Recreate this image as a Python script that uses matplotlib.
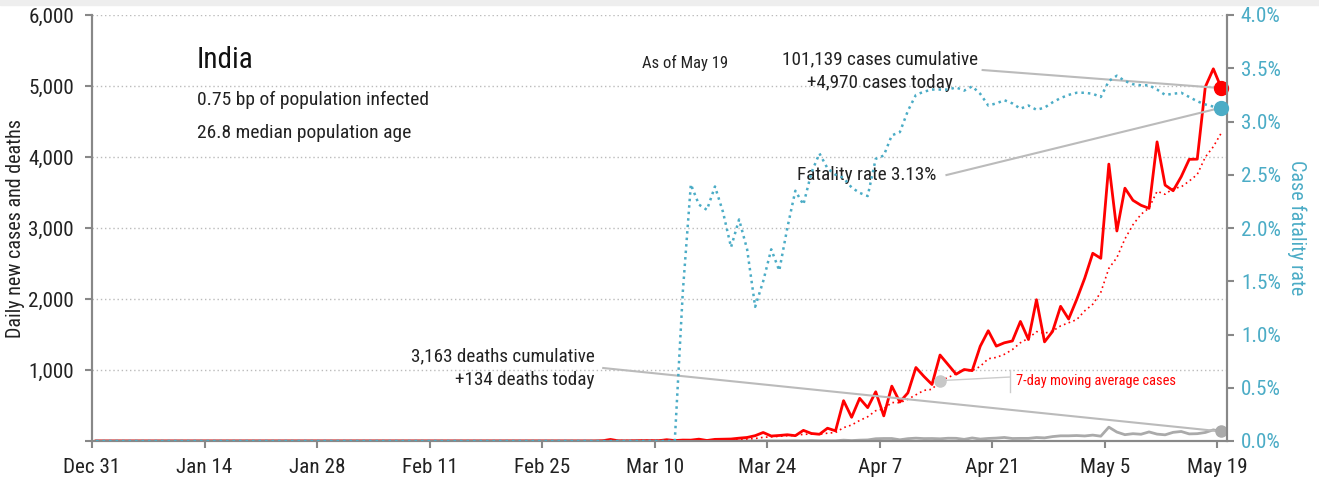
import numpy as np
import pandas as pd
import matplotlib
matplotlib.use("Agg")
import matplotlib.pyplot as plt
from matplotlib import font_manager

names = {f.name for f in font_manager.fontManager.ttflist}
FAM = [n for n in ["Liberation Sans Narrow", "Roboto Condensed", "Liberation Sans"] if n in names][:1] + ["DejaVu Sans"]
plt.rcParams['font.family'] = FAM

tick_labels = ["Dec 31", "Jan 14", "Jan 28", "Feb 11", "Feb 25", "Mar 10",
               "Mar 24", "Apr 7", "Apr 21", "May 5", "May 19"]

# Daily new cases, Dec 31 2019 .. May 19 2020
cases = ([0] * 30 + [1, 0, 0, 1, 1] + [0] * 28 +
         [3, 22, 2, 1, 3, 5, 4, 4, 18, 6, 13, 12, 26, 7, 23, 25, 28, 40, 50, 75,
          120, 70, 78, 88, 75, 150, 106, 95, 180] +
         [143, 568, 334, 601, 470, 693, 354, 773, 549, 678, 1035, 909, 796, 1211,
          1076, 941, 1007, 991, 1334, 1553, 1336, 1383, 1409, 1684, 1429, 1990,
          1396, 1543, 1897, 1718] +
         [1993, 2293, 2644, 2573, 3900, 2958, 3561, 3390, 3320, 3277, 4213, 3604,
          3525, 3722, 3967, 3970, 4987, 5242, 4970])

deaths = ([0] * 73 +
          [1, 1, 0, 0, 1, 0, 1, 1, 0, 1, 2, 1, 1, 3, 4, 2, 6, 3, 3] +
          [3, 12, 6, 12, 15, 32, 35, 35, 17, 33, 40, 34, 35, 31, 39, 38, 23, 43,
           27, 36, 41, 50, 35, 37, 37, 49, 44, 62, 73, 73] +
          [77, 71, 83, 68, 195, 126, 89, 103, 95, 128, 97, 87, 122, 134, 100, 103,
           120, 157, 134])

# Case fatality rate (%)
cfr = ([0.0] * 73 +
       [1.40, 2.41, 2.22, 2.17, 2.39, 2.15, 1.82, 2.08, 1.80, 1.26, 1.50, 1.80,
        1.60, 2.00, 2.35, 2.22, 2.52, 2.70, 2.56] +
       [2.50, 2.47, 2.38, 2.33, 2.30, 2.65, 2.68, 2.87, 2.90, 3.10, 3.25, 3.28,
        3.30, 3.30, 3.30, 3.32, 3.29, 3.33, 3.26, 3.15, 3.17, 3.20, 3.17, 3.12,
        3.15, 3.11, 3.13, 3.18, 3.22, 3.25] +
       [3.27, 3.27, 3.26, 3.23, 3.38, 3.43, 3.38, 3.35, 3.34, 3.34, 3.30, 3.25,
        3.26, 3.27, 3.23, 3.19, 3.16, 3.14, 3.13])

RED = "#ff0000"
BLUE = "#4bacc6"
GRAY = "#aaaaaa"
AXC = "#888888"
TXT = "#222222"

x = np.arange(len(cases)) + 0.5
ma = pd.Series(cases).rolling(7, min_periods=1).mean().values

fig = plt.figure(figsize=(13.19, 4.82), dpi=100)
fig.patch.set_facecolor("white")
fig.add_artist(plt.Rectangle((0, 0.99), 1, 0.01, transform=fig.transFigure,
                             color="#eeeeee", zorder=0))
ax = fig.add_axes([92 / 1319, 1 - 441 / 482, (1227 - 92) / 1319, (441 - 15) / 482])
ax2 = ax.twinx()

ax.set_xlim(0, 141.2)
ax.set_ylim(0, 6000)
ax2.set_ylim(0, 4.0)

for v in range(1000, 6001, 1000):
    ax.axhline(v, color="#bbbbbb", lw=1, ls=(0, (1, 2)), zorder=0)

ax.plot(x, deaths, color=GRAY, lw=2, zorder=2)
ax.plot(x, ma, color=RED, lw=1.2, ls=(0, (1, 2)), zorder=3)
ax.plot(x, cases, color=RED, lw=2, zorder=4)
ax2.plot(x, cfr, color=BLUE, lw=1.8, ls=(0, (1, 1.6)), zorder=3)

# end markers
ax.plot(x[-1], cases[-1], "o", color=RED, ms=10, zorder=6, clip_on=False)
ax.plot(x[-1], deaths[-1], "o", color=GRAY, ms=8, zorder=6, clip_on=False)
ax2.plot(x[-1], cfr[-1], "o", color=BLUE, ms=10, zorder=6, clip_on=False)
i_ma = 105
ax.plot(x[i_ma], ma[i_ma], "o", color="#c8c8c8", ms=8, zorder=6)

# axes styling
for a in (ax, ax2):
    for s in a.spines.values():
        s.set_color(AXC)
        s.set_linewidth(1.5)
    a.spines["top"].set_visible(False)
ax.set_xticks(np.arange(0, 141, 14))
ax.set_xticklabels(tick_labels)
ax.set_yticks(range(0, 6001, 1000))
ax.set_yticklabels([""] + [f"{v:,}" for v in range(1000, 6001, 1000)])
ax.tick_params(axis="both", colors=AXC, labelcolor=TXT, labelsize=15.2,
               length=5, width=1.5)
ax.tick_params(axis="x", pad=7)
ax.tick_params(axis="y", pad=8)
ax2.set_yticks(np.arange(0, 4.01, 0.5))
ax2.set_yticklabels([f"{v:.1f}%" for v in np.arange(0, 4.01, 0.5)])
ax2.tick_params(axis="y", colors=AXC, labelcolor=BLUE, labelsize=15.2,
                length=5, width=1.5, pad=5)
ax.set_ylabel("Daily new cases and deaths", fontsize=14.5, color=TXT, labelpad=2)
ax2.set_ylabel("Case fatality rate", fontsize=14.5, color=BLUE, rotation=-90,
               labelpad=18)

# texts
ax.text(13.06, 5366, "India", fontsize=21, va="center", ha="left", color="#111111")
ax.text(13.06, 4803, "0.75 bp of population infected", fontsize=14, va="center",
        color=TXT)
ax.text(13.06, 4338, "26.8 median population age", fontsize=14, va="center",
        color=TXT)
ax.text(73.76, 5324, "As of May 19", fontsize=12, va="center", ha="center",
        color=TXT)

ax.text(98.0, 5211, "101,139 cases cumulative\n+4,970 cases today", fontsize=13.8,
        ha="center", va="center", multialignment="center", color=TXT,
        linespacing=1.45, zorder=7)
ax.plot([110.8, x[-1]], [5225, cases[-1]], color="#bbbbbb", lw=1.5, zorder=5)

ax.text(105.1, 3746, "Fatality rate 3.13%", fontsize=13.8, ha="right", va="center",
        color=TXT, zorder=7)
ax.plot([106.3, x[-1]], [3746, cfr[-1] / 4.0 * 6000], color="#bbbbbb", lw=1.5,
        zorder=5)

ax.text(62.56, 1028, "3,163 deaths cumulative\n+134 deaths today", fontsize=13.8,
        ha="right", va="center", multialignment="right", color=TXT,
        linespacing=1.45, zorder=7)
ax.plot([63.6, x[-1]], [1028, deaths[-1]], color="#bbbbbb", lw=1.5, zorder=5)

ax.plot([x[i_ma], 114.2], [ma[i_ma], 901], color="#cccccc", lw=1, zorder=5)
ax.plot([114.2, 114.2], [690, 1000], color="#cccccc", lw=1, zorder=5)
ax.text(115.0, 845, "7-day moving average cases", fontsize=10.4, color=RED,
        ha="left", va="center")

fig.savefig("out.png", dpi=100)
